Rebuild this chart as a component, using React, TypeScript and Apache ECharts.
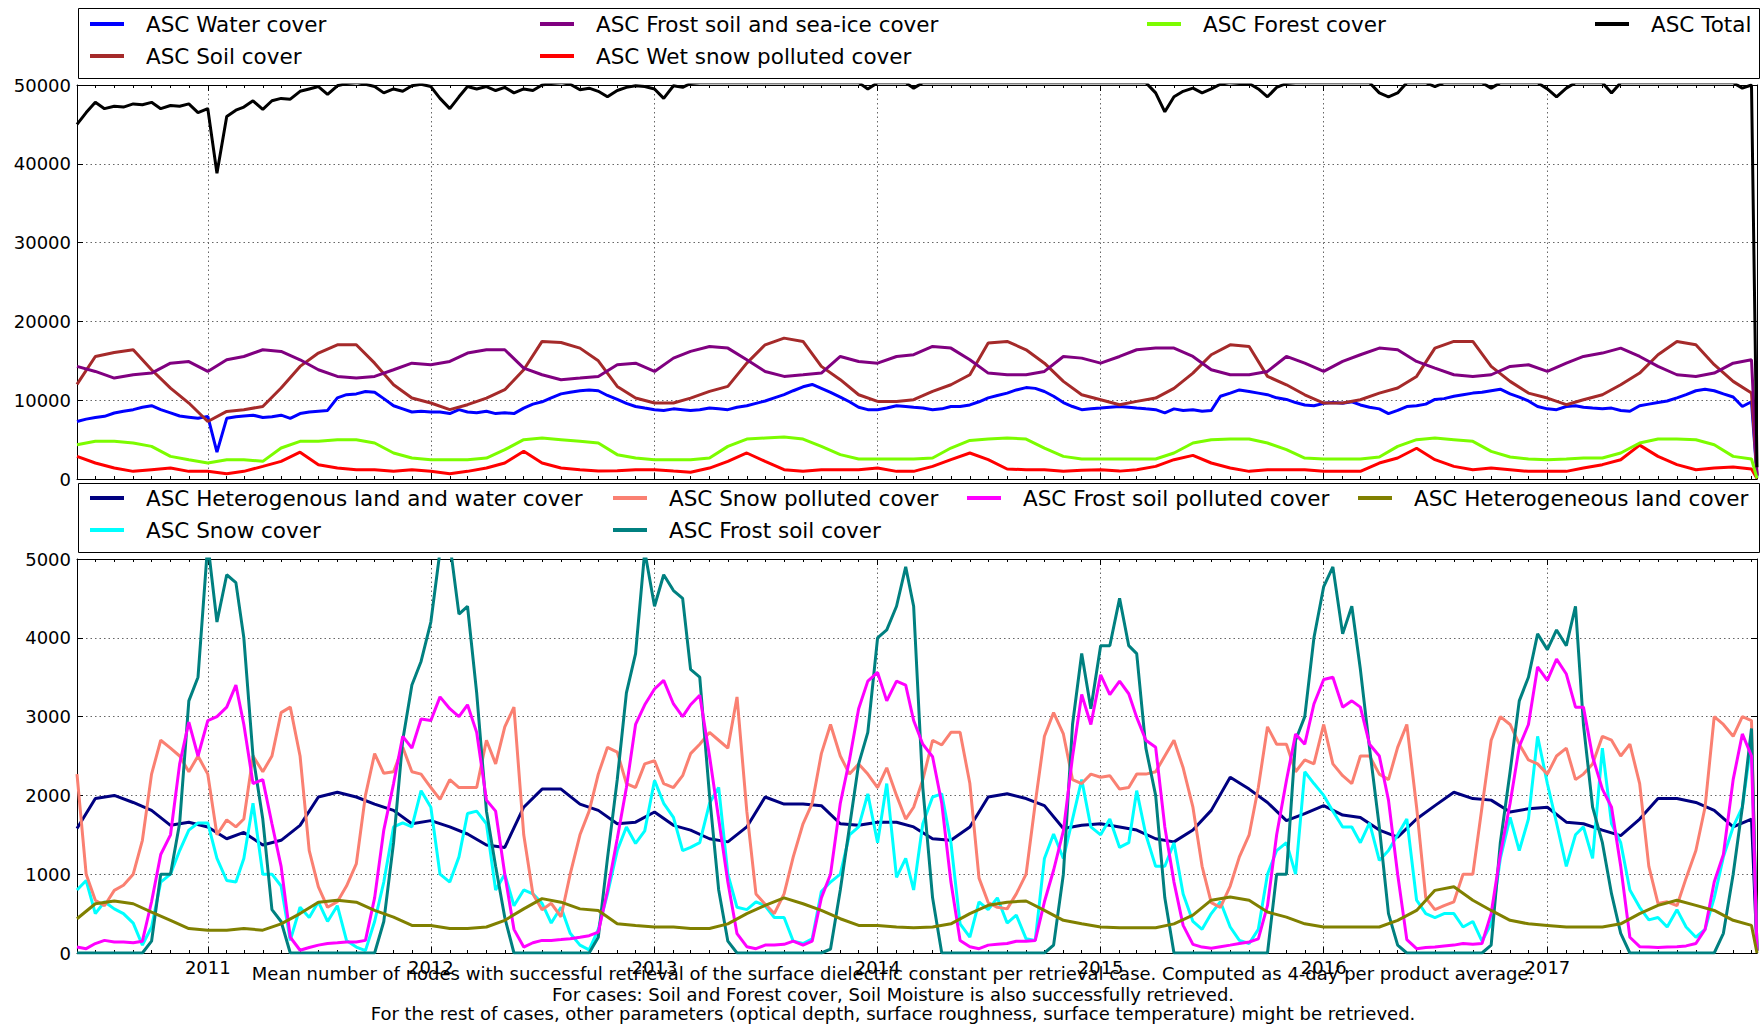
import React, { useEffect, useRef } from "react";
import * as echarts from "echarts";

// ---------- time sampling (x positions of the readings) ----------
const START = new Date(2010, 5, 1).getTime();
const END = new Date(2017, 11, 10).getTime();
const DAY = 24 * 3600 * 1000;

function monthDates(): number[] {
  const out: number[] = [];
  let y = 2010, m = 5;
  while (y < 2017 || (y === 2017 && m <= 11)) {
    out.push(new Date(y, m, 1).getTime());
    m++; if (m > 11) { m = 0; y++; }
  }
  out.push(END);
  return out;
}
function halfMonthDates(): number[] {
  const out: number[] = [];
  let y = 2010, m = 5;
  while (y < 2017 || (y === 2017 && m <= 11)) {
    out.push(new Date(y, m, 1).getTime());
    if (!(y === 2017 && m === 11)) out.push(new Date(y, m, 16).getTime());
    m++; if (m > 11) { m = 0; y++; }
  }
  out.push(END);
  return out;
}
const MONTHS = monthDates();
const HALF = halfMonthDates();

// ---------- tick labels ----------
const yearLabels = ["2011", "2012", "2013", "2014", "2015", "2016", "2017"];
const topTicks = [0, 10000, 20000, 30000, 40000, 50000];
const bottomTicks = [0, 1000, 2000, 3000, 4000, 5000];

// ---------- top panel (semi-monthly) ----------
const total = [
  45000, 46500, 47800, 47000, 47300, 47200, 47600, 47500, 47800, 47000, 47400, 47300,
  47600, 46500, 47000, 38800, 46000, 46800, 47200, 48000, 46900, 48000, 48300, 48200,
  49200, 49500, 49800, 48800, 49900, 50200, 50300, 50100, 49800, 49000, 49500, 49200,
  49900, 50100, 49800, 48300, 47000, 48500, 49800, 49500, 49800, 49300, 49700, 49000,
  49500, 49300, 50000, 50200, 50300, 50100, 49400, 49600, 49200, 48500, 49300, 49700,
  49900, 49800, 49500, 48300, 49900, 49700, 50200, 50300, 50300, 50300, 50300, 50300,
  50300, 50300, 50300, 50300, 50300, 50300, 50300, 50300, 50300, 50300, 50300, 50300,
  50300, 49500, 50300, 50300, 50300, 50300, 49600, 50300, 50300, 50300, 50300, 50300,
  50300, 50300, 50300, 50300, 50300, 50300, 50300, 50300, 50300, 50300, 50300, 50300,
  50300, 50300, 50300, 50300, 50300, 50300, 50300, 50300, 49000, 46600, 48500, 49200,
  49600, 49000, 49500, 50100, 50300, 50200, 50200, 49500, 48500, 49700, 50200, 50300,
  50300, 50300, 50300, 50300, 50300, 50300, 50300, 50300, 49000, 48500, 49000, 50300,
  50300, 50300, 49800, 50300, 50300, 50300, 50300, 50300, 49600, 50300, 50300, 50300,
  50300, 50300, 49500, 48500, 49600, 50300, 50300, 50300, 50300, 49000, 50300, 50300,
  50300, 50300, 50300, 50300, 50300, 50300, 50300, 50300, 50300, 50300, 50300, 49600,
  50000, 1500,
];
const water = [
  7300, 7600, 7800, 7950, 8370, 8600, 8800, 9100, 9300, 8800, 8400, 8000,
  7850, 7700, 7950, 3400, 7700, 7900, 8000, 8100, 7800, 7900, 8100, 7700,
  8300, 8500, 8600, 8700, 10300, 10700, 10800, 11100, 11000, 10200, 9300, 8900,
  8500, 8600, 8500, 8500, 8300, 8800, 8500, 8400, 8600, 8300, 8400, 8300,
  9000, 9500, 9800, 10300, 10800, 11000, 11200, 11300, 11200, 10600, 10100, 9600,
  9200, 9000, 8800, 8700, 8900, 8800, 8700, 8800, 9000, 8900, 8800, 9100,
  9300, 9600, 9900, 10300, 10700, 11200, 11700, 12000, 11500, 11000, 10400, 9800,
  9100, 8800, 8800, 9000, 9300, 9200, 9100, 9000, 8800, 8900, 9200, 9200,
  9400, 9800, 10300, 10600, 10900, 11300, 11600, 11500, 11100, 10500, 9700, 9200,
  8800, 8900, 9000, 9100, 9200, 9100, 9000, 8900, 8800, 8400, 8900, 8700,
  8800, 8600, 8700, 10500, 10900, 11300, 11100, 10900, 10700, 10300, 10100, 9700,
  9400, 9300, 9600, 9700, 9600, 9800, 9400, 9100, 8900, 8300, 8700, 9200,
  9300, 9500, 10100, 10200, 10500, 10700, 10900, 11000, 11200, 11400, 10800, 10400,
  9900, 9200, 8900, 8800, 9200, 9300, 9100, 9000, 8900, 9000, 8700, 8600,
  9300, 9500, 9700, 9900, 10300, 10700, 11200, 11400, 11200, 10800, 10400, 9200,
  9800, 300,
];

// ---------- top panel (monthly) ----------
const soil = [
  12000, 15550, 16060, 16400, 13860, 11540, 9640, 7300, 8580, 8800, 9200, 11540,
  14290, 15980, 17030, 17030, 14700, 11960, 10270, 9640, 8800, 9430, 10270, 11330,
  13860, 17460, 17330, 16610, 15000, 11750, 10270, 9640, 9640, 10270, 11120, 11750,
  14700, 17030, 17880, 17460, 14290, 12600, 10690, 9850, 9850, 10060, 11120, 11960,
  13230, 17250, 17460, 16400, 14700, 12390, 10690, 10060, 9430, 9850, 10270, 11500,
  13440, 15770, 17030, 16820, 13020, 11960, 10690, 9640, 9640, 10060, 10900, 11540,
  13020, 16610, 17460, 17460, 14290, 12390, 10900, 10270, 9430, 10060, 10690, 11960,
  13440, 15770, 17460, 17030, 14500, 12390, 10900, 400,
];
const frostSeaIce = [
  14290, 13650, 12810, 13230, 13440, 14700, 14900, 13650, 15130, 15550, 16400, 16190,
  15130, 13860, 13020, 12810, 13020, 13860, 14700, 14500, 14920, 15980, 16400, 16400,
  14080, 13230, 12600, 12810, 13020, 14500, 14700, 13650, 15340, 16190, 16820, 16610,
  15130, 13650, 13020, 13230, 13440, 15550, 14920, 14700, 15550, 15770, 16820, 16610,
  15130, 13440, 13230, 13230, 13650, 15550, 15340, 14700, 15550, 16400, 16610, 16610,
  15550, 13860, 13230, 13230, 13650, 15550, 14700, 13650, 14920, 15770, 16610, 16400,
  14920, 14080, 13230, 13020, 13230, 14290, 14500, 13650, 14700, 15550, 15980, 16610,
  15550, 14290, 13230, 13020, 13440, 14700, 15130, 500,
];
const wetSnow = [
  2870, 2030, 1390, 970, 1180, 1390, 970, 970, 680, 970, 1600, 2240,
  3400, 1820, 1390, 1180, 1180, 970, 1180, 970, 680, 970, 1390, 2030,
  3510, 2030, 1390, 1180, 1000, 1050, 1180, 1180, 1000, 850, 1390, 2240,
  3300, 2240, 1180, 970, 1180, 1180, 1180, 1390, 970, 970, 1600, 2450,
  3300, 2450, 1270, 1180, 1180, 970, 1100, 1180, 1000, 1180, 1600, 2450,
  3000, 2030, 1390, 970, 1180, 1180, 1180, 970, 970, 970, 2030, 2660,
  3900, 2450, 1600, 1180, 1390, 1180, 970, 970, 970, 1390, 1820, 2450,
  4300, 2870, 1820, 1180, 1390, 1520, 1270, 50,
];
const forest = [
  4350, 4780, 4780, 4570, 4140, 2870, 2450, 2030, 2450, 2450, 2240, 3930,
  4780, 4780, 4990, 4990, 4570, 3300, 2660, 2450, 2450, 2450, 2660, 3720,
  4990, 5200, 4990, 4780, 4570, 3090, 2660, 2450, 2450, 2450, 2660, 4140,
  5070, 5200, 5330, 5070, 4140, 3090, 2540, 2540, 2540, 2540, 2660, 3930,
  4900, 5070, 5200, 5070, 3930, 2870, 2540, 2540, 2540, 2540, 2540, 3300,
  4570, 4990, 5070, 5070, 4570, 3720, 2660, 2540, 2540, 2540, 2790, 4140,
  4990, 5200, 4990, 4780, 3510, 2790, 2540, 2450, 2540, 2660, 2660, 3300,
  4570, 5070, 5070, 4990, 4350, 2870, 2540, 80,
];

// ---------- bottom panel (monthly) ----------
const hetLandWater = [
  1580, 1960, 2000, 1910, 1810, 1620, 1660, 1600, 1450, 1530, 1370, 1430,
  1620, 1980, 2040, 1980, 1890, 1810, 1640, 1680, 1600, 1510, 1370, 1340,
  1850, 2080, 2080, 1890, 1810, 1640, 1660, 1790, 1620, 1560, 1450, 1410,
  1600, 1980, 1890, 1890, 1870, 1640, 1620, 1660, 1660, 1600, 1450, 1430,
  1600, 1980, 2020, 1960, 1870, 1580, 1620, 1640, 1600, 1560, 1450, 1410,
  1560, 1810, 2230, 2080, 1910, 1680, 1770, 1870, 1750, 1720, 1560, 1470,
  1700, 1870, 2040, 1960, 1940, 1790, 1830, 1850, 1660, 1640, 1560, 1490,
  1700, 1960, 1960, 1910, 1810, 1600, 1700, 30,
];
const hetLand = [
  435, 625, 660, 625, 520, 415, 310, 290, 290, 310, 290, 370,
  500, 645, 670, 645, 540, 455, 350, 350, 310, 310, 330, 415,
  560, 690, 645, 560, 540, 370, 350, 330, 330, 310, 310, 370,
  500, 605, 700, 625, 540, 435, 350, 350, 330, 320, 330, 370,
  500, 605, 645, 660, 540, 415, 370, 330, 320, 320, 320, 370,
  480, 670, 710, 670, 520, 455, 370, 330, 330, 330, 330, 415,
  540, 795, 840, 670, 540, 415, 370, 350, 330, 330, 330, 370,
  500, 605, 670, 605, 540, 415, 350, 0,
];

// ---------- bottom panel (semi-monthly) ----------
const frostSoil = [
  0, 0, 0, 0, 0, 0, 0, 0, 150, 1000, 1000, 1650,
  3200, 3500, 5200, 4200, 4800, 4700, 4000, 2500, 1700, 550, 400, 0,
  0, 0, 0, 0, 0, 0, 0, 0, 0, 400, 1400, 2700,
  3400, 3700, 4200, 5100, 5200, 4300, 4400, 3300, 1800, 1100, 450, 0,
  0, 0, 0, 0, 0, 0, 0, 0, 200, 1200, 2200, 3300,
  3800, 5100, 4400, 4800, 4600, 4500, 3600, 3500, 2000, 800, 150, 0,
  0, 0, 0, 0, 0, 0, 0, 0, 0, 50, 800, 1600,
  2400, 2800, 4000, 4100, 4400, 4900, 4400, 2100, 700, 0, 0, 0,
  0, 0, 0, 0, 0, 0, 0, 0, 0, 100, 1000, 2900,
  3800, 3100, 3900, 3900, 4500, 3900, 3800, 2600, 2000, 700, 0, 0,
  0, 0, 0, 0, 0, 0, 0, 0, 0, 1000, 1000, 2700,
  3000, 4000, 4650, 4900, 4050, 4400, 3600, 2600, 1600, 500, 100, 0,
  0, 0, 0, 0, 0, 0, 0, 0, 100, 1400, 2300, 3200,
  3500, 4050, 3850, 4100, 3900, 4400, 2900, 1850, 1400, 750, 250, 0,
  0, 0, 0, 0, 0, 0, 0, 0, 0, 250, 1000, 1850,
  2850, 30,
];
const frostSoilPolluted = [
  75, 55, 120, 160, 140, 140, 130, 150, 650, 1250, 1500, 2400,
  2930, 2500, 2950, 3000, 3120, 3400, 2900, 2150, 2200, 1640, 1100, 200,
  35, 70, 100, 120, 130, 140, 140, 160, 700, 1560, 2150, 2750,
  2600, 2970, 2950, 3250, 3100, 3000, 3150, 2800, 1940, 1800, 1000, 300,
  75, 130, 160, 160, 170, 180, 200, 220, 265, 790, 1450, 2100,
  2900, 3150, 3350, 3460, 3160, 3000, 3150, 3270, 2500, 1700, 900, 245,
  80, 55, 100, 100, 110, 150, 100, 150, 700, 1000, 1900, 2450,
  3100, 3450, 3560, 3200, 3450, 3400, 2950, 2650, 2490, 1900, 900, 160,
  80, 55, 100, 110, 120, 150, 150, 160, 650, 1050, 1550, 2490,
  3280, 2900, 3530, 3280, 3450, 3290, 2990, 2700, 2610, 1600, 900, 350,
  110, 75, 60, 80, 100, 120, 140, 180, 600, 1500, 2190, 2780,
  2650, 3160, 3470, 3500, 3120, 3200, 3120, 2650, 2500, 1940, 1000, 170,
  55, 70, 75, 90, 100, 120, 110, 120, 500, 1250, 1900, 2620,
  2900, 3630, 3460, 3730, 3540, 3120, 3120, 2490, 2080, 1850, 1100, 200,
  80, 75, 70, 75, 80, 90, 120, 300, 900, 1250, 2200, 2780,
  2500, 30,
];
const snow = [
  800, 920, 500, 650, 560, 500, 380, 100, 330, 900, 1000, 1300,
  1560, 1650, 1650, 1200, 920, 900, 1200, 1900, 1000, 1000, 850, 160,
  580, 450, 650, 400, 600, 160, 75, 30, 400, 900, 1600, 1650,
  1600, 2060, 1850, 1000, 900, 1220, 1770, 1800, 1640, 800, 1000, 600,
  800, 750, 630, 380, 580, 250, 100, 40, 300, 750, 1300, 1600,
  1390, 1550, 2190, 1900, 1720, 1300, 1340, 1400, 1900, 2100, 1000, 580,
  550, 650, 600, 450, 450, 150, 120, 180, 780, 900, 1000, 1500,
  1600, 2020, 1400, 2150, 960, 1200, 800, 1640, 1980, 2020, 1400, 370,
  200, 650, 550, 700, 380, 480, 180, 160, 1200, 1510, 1200, 1700,
  2200, 1600, 1500, 1700, 1340, 1400, 2060, 1500, 1100, 1100, 1400, 750,
  400, 300, 500, 650, 330, 160, 120, 300, 1000, 1300, 1400, 1000,
  2300, 2150, 2000, 1800, 1600, 1600, 1400, 1650, 1175, 1300, 1500, 1700,
  670, 500, 450, 500, 500, 330, 400, 150, 370, 1200, 1720, 1300,
  1700, 2750, 2150, 1650, 1100, 1500, 1600, 1200, 2600, 1640, 1400, 800,
  580, 420, 450, 330, 550, 330, 200, 300, 700, 1220, 1600, 1850,
  2700, 30,
];
const snowPolluted = [
  2270, 1000, 670, 600, 795, 860, 1000, 1430, 2270, 2700, 2600, 2500,
  2300, 2500, 2270, 1500, 1690, 1600, 1700, 2500, 2300, 2500, 3050, 3120,
  2500, 1300, 840, 580, 650, 850, 1130, 2000, 2530, 2280, 2300, 2610,
  2300, 2270, 2100, 1950, 2200, 2100, 2100, 2100, 2700, 2400, 2870, 3120,
  1500, 750, 550, 630, 460, 1000, 1500, 1800, 2270, 2610, 2550, 2150,
  2100, 2400, 2440, 2150, 2100, 2250, 2530, 2650, 2800, 2700, 2600, 3250,
  1800, 750, 620, 500, 750, 1220, 1640, 1900, 2530, 2900, 2500, 2270,
  2400, 2270, 2100, 2350, 2000, 1700, 1850, 2200, 2700, 2640, 2800, 2800,
  2150, 950, 640, 580, 560, 750, 1000, 1900, 2750, 3050, 2780, 2200,
  2150, 2270, 2230, 2250, 2080, 2100, 2270, 2270, 2300, 2500, 2700, 2350,
  1850, 1100, 640, 580, 850, 1220, 1500, 2100, 2870, 2650, 2650, 2300,
  2450, 2400, 2900, 2400, 2250, 2150, 2500, 2500, 2270, 2200, 2610, 2900,
  1850, 700, 550, 600, 650, 1000, 1000, 1850, 2700, 3000, 2900, 2650,
  2450, 2400, 2270, 2500, 2600, 2200, 2270, 2400, 2750, 2700, 2500, 2650,
  2150, 1100, 630, 650, 600, 950, 1300, 1850, 3000, 2900, 2750, 3000,
  2950, 30,
];

const captionLines = [
  "Mean number of nodes with successful retrieval of the surface dielectric constant per retrieval case. Computed as 4-day per product average.",
  "For cases: Soil and Forest cover, Soil Moisture is also successfully retrieved.",
  "For the rest of cases, other parameters (optical depth, surface roughness, surface temperature) might be retrieved.",
];

const FONT = "DejaVu Sans";

type S = { name: string; color: string; dates: number[]; values: number[]; panel: 0 | 1 };
const SERIES: S[] = [
  { name: "ASC Water cover", color: "#0000ff", dates: HALF, values: water, panel: 0 },
  { name: "ASC Soil cover", color: "#a52a2a", dates: MONTHS, values: soil, panel: 0 },
  { name: "ASC Frost soil and sea-ice cover", color: "#800080", dates: MONTHS, values: frostSeaIce, panel: 0 },
  { name: "ASC Wet snow polluted cover", color: "#ff0000", dates: MONTHS, values: wetSnow, panel: 0 },
  { name: "ASC Forest cover", color: "#7cfc00", dates: MONTHS, values: forest, panel: 0 },
  { name: "ASC Total", color: "#000000", dates: HALF, values: total, panel: 0 },
  { name: "ASC Heterogenous land and water cover", color: "#000080", dates: MONTHS, values: hetLandWater, panel: 1 },
  { name: "ASC Snow cover", color: "#00ffff", dates: HALF, values: snow, panel: 1 },
  { name: "ASC Snow polluted cover", color: "#fa8072", dates: HALF, values: snowPolluted, panel: 1 },
  { name: "ASC Frost soil cover", color: "#008080", dates: HALF, values: frostSoil, panel: 1 },
  { name: "ASC Frost soil polluted cover", color: "#ff00ff", dates: HALF, values: frostSoilPolluted, panel: 1 },
  { name: "ASC Heterogeneous land cover", color: "#808000", dates: MONTHS, values: hetLand, panel: 1 },
];

const LEGEND_COLS = [
  { names: ["ASC Water cover", "ASC Soil cover"], left: 90, top: 12 },
  { names: ["ASC Frost soil and sea-ice cover", "ASC Wet snow polluted cover"], left: 540, top: 12 },
  { names: ["ASC Forest cover"], left: 1147, top: 12 },
  { names: ["ASC Total"], left: 1595, top: 12 },
  { names: ["ASC Heterogenous land and water cover", "ASC Snow cover"], left: 90, top: 486 },
  { names: ["ASC Snow polluted cover", "ASC Frost soil cover"], left: 613, top: 486 },
  { names: ["ASC Frost soil polluted cover"], left: 967, top: 486 },
  { names: ["ASC Heterogeneous land cover"], left: 1358, top: 486 },
];

function yearLabel(v: number): string {
  const d = new Date(v);
  const s = String(d.getFullYear());
  return d.getMonth() === 0 && d.getDate() === 1 && yearLabels.includes(s) ? s : "";
}

function buildOption() {
  const grids = [
    { left: 77, top: 85, width: 1680, height: 394 },
    { left: 77, top: 559, width: 1680, height: 394 },
  ];
  const gridLine = { color: "#666", width: 1, type: [1.5, 3] as any };
  const xAxes: any[] = [];
  [0, 1].forEach((g) => {
    (["bottom", "top"] as const).forEach((pos) => {
      // yearly (major)
      xAxes.push({
        type: "time", gridIndex: g, position: pos, min: START, max: END,
        splitNumber: 7, minInterval: 365 * DAY, maxInterval: 366 * DAY,
        axisLine: { show: true, onZero: false, lineStyle: { color: "#000", width: 1 } },
        axisTick: { show: true, inside: true, length: 6, lineStyle: { color: "#000", width: 1 } },
        axisLabel: g === 1 && pos === "bottom"
          ? { show: true, formatter: yearLabel, fontSize: 18, fontFamily: FONT, color: "#000", margin: 5, showMinLabel: false, showMaxLabel: false, hideOverlap: false }
          : { show: false },
        splitLine: { show: pos === "bottom", lineStyle: gridLine },
        axisPointer: { show: false },
      });
      // monthly (minor)
      xAxes.push({
        type: "time", gridIndex: g, position: pos, min: START, max: END,
        splitNumber: 90, minInterval: 28 * DAY, maxInterval: 31 * DAY,
        axisLine: { show: false, onZero: false },
        axisTick: { show: true, inside: true, length: 3, lineStyle: { color: "#000", width: 1 } },
        axisLabel: { show: false },
        splitLine: { show: false },
        axisPointer: { show: false },
      });
    });
  });
  const yAxes: any[] = [];
  [0, 1].forEach((g) => {
    const ticks = g === 0 ? topTicks : bottomTicks;
    (["left", "right"] as const).forEach((pos) => {
      yAxes.push({
        type: "value", gridIndex: g, position: pos,
        min: ticks[0], max: ticks[ticks.length - 1], interval: ticks[1] - ticks[0],
        axisLine: { show: true, onZero: false, lineStyle: { color: "#000", width: 1 } },
        axisTick: { show: true, inside: true, length: 6, lineStyle: { color: "#000", width: 1 } },
        axisLabel: pos === "left"
          ? { show: true, fontSize: 18, fontFamily: FONT, color: "#000", margin: 6, formatter: (v: number) => String(v) }
          : { show: false },
        splitLine: { show: pos === "left", lineStyle: gridLine },
      });
    });
  });

  const series = SERIES.map((s) => {
    const n = Math.min(s.dates.length, s.values.length);
    const data: [number, number][] = [];
    for (let k = 0; k < n; k++) data.push([s.dates[k], s.values[k]]);
    return {
      name: s.name, type: "line", data,
      xAxisIndex: s.panel === 0 ? 0 : 4, yAxisIndex: s.panel === 0 ? 0 : 2,
      showSymbol: false, symbol: "none", clip: true,
      lineStyle: { color: s.color, width: 3 },
      itemStyle: { color: s.color },
      emphasis: { disabled: true },
      silent: true,
    };
  });

  const legend = LEGEND_COLS.map((c) => ({
    data: c.names, left: c.left, top: c.top, orient: "vertical",
    itemGap: 8, itemWidth: 34, itemHeight: 4, icon: "rect", padding: 0,
    selectedMode: false,
    textStyle: { fontSize: 21.5, fontFamily: FONT, color: "#000", lineHeight: 24, padding: [0, 0, 0, 17] },
  }));

  const graphic: any[] = [
    { type: "rect", left: 76, top: 6, shape: { x: 0, y: 0, width: 1681, height: 70 }, style: { fill: "none", stroke: "#000", lineWidth: 1 }, silent: true, z: 10 },
    { type: "rect", left: 76, top: 481, shape: { x: 0, y: 0, width: 1681, height: 69 }, style: { fill: "none", stroke: "#000", lineWidth: 1 }, silent: true, z: 10 },
  ];
  const capY = [973, 994, 1013];
  captionLines.forEach((t, k) => {
    graphic.push({
      type: "text", x: 893, y: capY[k], silent: true, z: 20,
      style: { text: t, fill: "#000", font: `18px "${FONT}"`, textAlign: "center", textVerticalAlign: "middle", align: "center", verticalAlign: "middle" },
    });
  });

  return {
    animation: false,
    backgroundColor: "#fff",
    textStyle: { fontFamily: FONT },
    grid: grids,
    xAxis: xAxes,
    yAxis: yAxes,
    legend,
    series,
    graphic,
  };
}

export default function App() {
  const ref = useRef<HTMLDivElement | null>(null);
  useEffect(() => {
    if (!ref.current) return;
    const chart = echarts.init(ref.current, null, { renderer: "svg" });
    chart.setOption(buildOption() as any);
    return () => chart.dispose();
  }, []);
  return (
    <div
      ref={ref}
      style={{ position: "absolute", left: 0, top: 0, width: 1763, height: 1025, background: "#fff" }}
    />
  );
}
